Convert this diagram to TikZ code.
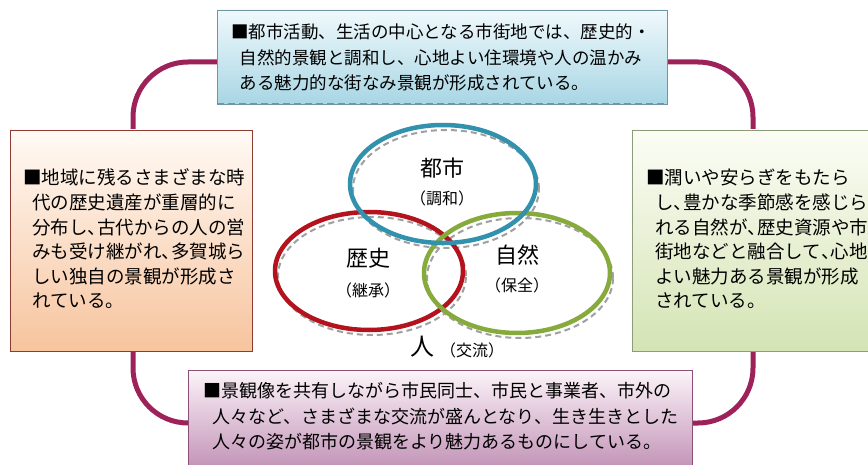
\documentclass[tikz,border=0pt]{standalone}
\usepackage{fontspec}
\setmainfont{Noto Sans CJK JP}
\usetikzlibrary{shapes.geometric}
\definecolor{framec}{RGB}{158,34,90}
\definecolor{shadowc}{RGB}{160,160,160}
\definecolor{topA}{RGB}{240,249,252}
\definecolor{topB}{RGB}{168,214,228}
\definecolor{topD}{RGB}{110,150,165}
\definecolor{leftA}{RGB}{255,250,245}
\definecolor{leftB}{RGB}{247,196,158}
\definecolor{leftD}{RGB}{140,60,50}
\definecolor{rightA}{RGB}{252,253,246}
\definecolor{rightB}{RGB}{212,228,180}
\definecolor{rightD}{RGB}{140,155,120}
\definecolor{botA}{RGB}{252,244,249}
\definecolor{botB}{RGB}{190,140,178}
\definecolor{botD}{RGB}{140,80,120}
\definecolor{ringblue}{RGB}{50,145,172}
\definecolor{ringred}{RGB}{180,18,28}
\definecolor{ringgreen}{RGB}{134,170,60}
\newcommand\hc{\makebox[0.5em][l]{、}}
\tikzset{
  frame/.style={draw=framec, line width=5pt},
  frameshadow/.style={draw=shadowc, line width=2pt, dash pattern=on 6pt off 4pt},
  box/.style={rectangle, inner sep=0pt, line width=0.8pt},
  boxdash/.style={line width=1.8pt, dash pattern=on 7pt off 4pt},
  ring/.style={ellipse, inner sep=0pt, line width=4.5pt},
  ringshadow/.style={ellipse, inner sep=0pt, draw=shadowc, line width=2pt, dash pattern=on 6pt off 4pt},
  txt17/.style={anchor=base west, inner sep=0pt, font=\fontsize{17.5pt}{20pt}\selectfont},
  txt18/.style={anchor=base west, inner sep=0pt, font=\fontsize{18.5pt}{20pt}\selectfont},
  txtb/.style={anchor=base west, inner sep=0pt, font=\fontsize{18pt}{20pt}\selectfont},
  big/.style={inner sep=0pt, font=\fontsize{22pt}{24pt}\selectfont},
  bigger/.style={inner sep=0pt, font=\fontsize{24pt}{26pt}\selectfont},
  small/.style={inner sep=0pt, font=\fontsize{16pt}{18pt}\selectfont},
}
\begin{document}
\begin{tikzpicture}[x=1pt,y=-1pt]
\useasboundingbox (0,0) rectangle (868,465);
\fill[white] (0,0) rectangle (868,465);

% frame loop
\coordinate (fTL) at (133,62);
\coordinate (fTR) at (753,62);
\coordinate (fBR) at (753,423);
\coordinate (fBL) at (133,423);
\draw[frameshadow, rounded corners=55pt, shift={(1,4)}] (fTL) -- (fTR) -- (fBR) -- (fBL) -- cycle;
\draw[frame, rounded corners=55pt] (fTL) -- (fTR) -- (fBR) -- (fBL) -- cycle;

% boxes
\node[box, draw=topD, top color=topA, bottom color=topB, minimum width=450pt, minimum height=94pt] (top) at (442,57) {};
\draw[boxdash, draw=topD] (top.south west) -- (top.south east) -- (top.north east);
\node[box, draw=leftD, top color=leftA, bottom color=leftB, minimum width=242pt, minimum height=221pt] (left) at (131,240.5) {};
\draw[boxdash, draw=leftD] (left.south west) -- (left.south east) -- (left.north east);
\node[box, draw=rightD, top color=rightA, bottom color=rightB, minimum width=246pt, minimum height=221pt] (right) at (755,240.5) {};
\draw[boxdash, draw=rightD] (right.south west) -- (right.south east);
\node[box, draw=botD, top color=botA, bottom color=botB, minimum width=504pt, minimum height=105pt] (bot) at (440,422.5) {};

% top text
\node[txt17] (t1) at (231,38.7) {■都市活動、生活の中心となる市街地では、歴史的・};
\node[txt17] (t2) at (231,64.2) {\hspace*{0.5em}自然的景観と調和し、心地よい住環境や人の温かみ};
\node[txt17] (t3) at (231,89.7) {\hspace*{0.5em}ある魅力的な街なみ景観が形成されている。};

% left text
\node[txt18] (l1) at (23,185) {■地域に残るさまざまな時};
\node[txt18] (l2) at (23,209.6) {\hspace*{0.5em}代の歴史遺産が重層的に};
\node[txt18] (l3) at (23,234.2) {\hspace*{0.5em}分布し\hc 古代からの人の営};
\node[txt18] (l4) at (23,258.8) {\hspace*{0.5em}みも受け継がれ\hc 多賀城ら};
\node[txt18] (l5) at (23,283.4) {\hspace*{0.5em}しい独自の景観が形成さ};
\node[txt18] (l6) at (23,308) {\hspace*{0.5em}れている。};

% right text
\node[txt18] (r1) at (646,185) {■潤いや安らぎをもたら};
\node[txt18] (r2) at (646,209.6) {\hspace*{0.5em}し\hc 豊かな季節感を感じら};
\node[txt18] (r3) at (646,234.2) {\hspace*{0.5em}れる自然が\hc 歴史資源や市};
\node[txt18] (r4) at (646,258.8) {\hspace*{0.5em}街地などと融合して\hc 心地};
\node[txt18] (r5) at (646,283.4) {\hspace*{0.5em}よい魅力ある景観が形成};
\node[txt18] (r6) at (646,308) {\hspace*{0.5em}されている。};

% bottom text
\node[txtb] (b1) at (203,397.8) {■景観像を共有しながら市民同士、市民と事業者、市外の};
\node[txtb] (b2) at (203,423.2) {\hspace*{0.5em}人々など、さまざまな交流が盛んとなり、生き生きとした};
\node[txtb] (b3) at (203,448.6) {\hspace*{0.5em}人々の姿が都市の景観をより魅力あるものにしている。};

% rings
\node[ringshadow, minimum width=186pt, minimum height=118pt] (toshis) at (446,189) {};
\node[ringshadow, minimum width=188pt, minimum height=118pt] (rekishis) at (372,276) {};
\node[ringshadow, minimum width=186pt, minimum height=120pt] (shizens) at (520,278) {};
\node[ring, draw=ringred, minimum width=188pt, minimum height=118pt] (rekishi) at (369,271) {};
\node[ring, draw=ringgreen, minimum width=186pt, minimum height=120pt] (shizen) at (517,273) {};
\node[ring, draw=ringblue, minimum width=186pt, minimum height=118pt] (toshi) at (443,184) {};

\node[big] (l-toshi) at (442,168) {都市};
\node[small] (s-toshi) at (442,198) {（調和）};
\node[big] (l-rekishi) at (368,258) {歴史};
\node[small] (s-rekishi) at (368,290) {（継承）};
\node[big] (l-shizen) at (517,255) {自然};
\node[small] (s-shizen) at (517,285) {（保全）};
\node[bigger] (l-hito) at (422,347) {人};
\node[small] (s-hito) at (472,350) {（交流）};
\end{tikzpicture}
\end{document}
